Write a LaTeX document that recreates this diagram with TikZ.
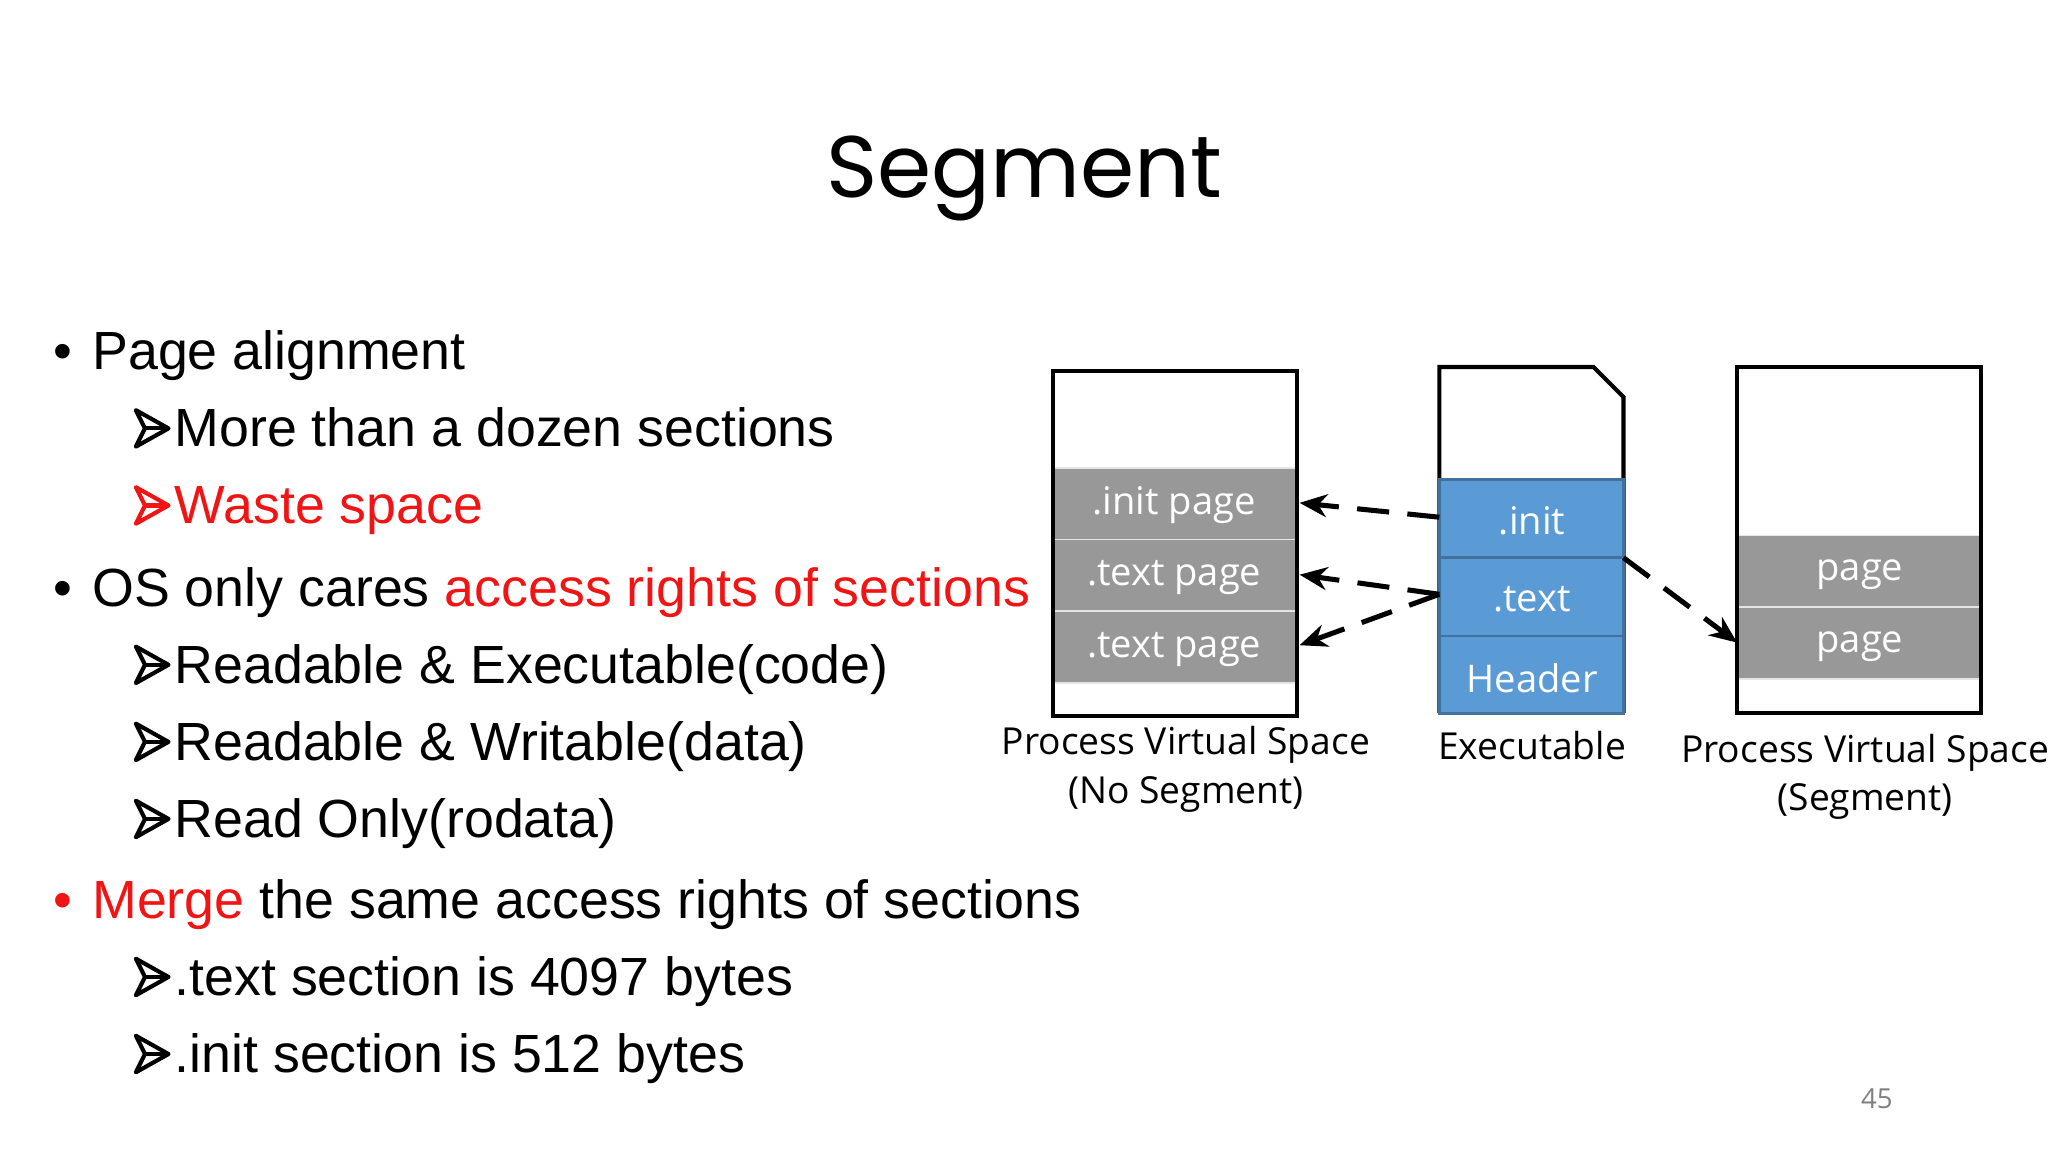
\documentclass[tikz,border=0pt]{standalone}
\usepackage{fontspec}
\setmainfont{Liberation Sans}
\newfontfamily\dfont{Open Sans}
\newfontfamily\tfont{Poppins}
\usetikzlibrary{arrows.meta}
\definecolor{myred}{RGB}{240,20,20}
\definecolor{mygray}{RGB}{152,152,152}
\definecolor{myblue}{RGB}{91,155,213}
\definecolor{myblueb}{RGB}{65,113,156}
\tikzset{
 bt/.style={anchor=base west,inner sep=0pt,font=\fontsize{11.7}{14}\selectfont},
 lbl/.style={font=\dfont\fontsize{8.1}{10.5}\selectfont,align=center,inner sep=0pt},
 graycell/.style={draw=white!80!gray,fill=mygray,line width=0.4pt},
 bluecell/.style={draw=myblueb,fill=myblue,line width=0.6pt},
 celltxt/.style={font=\dfont\fontsize{8.3}{10}\selectfont,text=white,inner sep=0pt},
 dasharrow/.style={dashed,dash pattern=on 7pt off 4pt,line width=1.1pt,-{Stealth[length=6pt,width=5pt]}}
}
\begin{document}
\begin{tikzpicture}[x=0.01cm,y=-0.01cm]
\useasboundingbox (0,0) rectangle (1568,882);
\node[font=\tfont\fontsize{19}{22}\selectfont,inner sep=0pt] (title) at (784,137) {Segment};
% bullets
\foreach \y/\c in {283/black,464/black,703/myred}{
 \node[bt,text=\c] at (40,\y) {•};}
\node[bt] (b1) at (70,283) {Page alignment};
\node[bt] (b2) at (70,464) {OS only cares \textcolor{myred}{access rights of sections}};
\node[bt] (b3) at (70,703) {\textcolor{myred}{Merge} the same access rights of sections};
\node[bt] (s1) at (133,342) {More than a dozen sections};
\node[bt,text=myred] (s2) at (133,401) {Waste space};
\node[bt] (s3) at (133,523) {Readable \& Executable(code)};
\node[bt] (s4) at (133,582) {Readable \& Writable(data)};
\node[bt] (s5) at (133,641) {Read Only(rodata)};
\node[bt] (s6) at (133,762) {.text section is 4097 bytes};
\node[bt] (s7) at (133,821) {.init section is 512 bytes};
\foreach \y/\c in {328/black,387/myred,509/black,568/black,627/black,748/black,807/black}{
 \begin{scope}[shift={(104,\y)}]
 \draw[\c,line width=0.9pt,line join=round,fill=white] (0,-14) -- (25,0) -- (0,14) -- (7,0) -- cycle;
 \draw[\c,line width=0.9pt] (7,0) -- (25,0);
 \end{scope}}
% left box
\draw[graycell] (806,358) rectangle (993,413);
\draw[graycell] (806,413) rectangle (993,468);
\draw[graycell] (806,468) rectangle (993,523);
\draw[line width=0.9pt] (806,284) rectangle (993,548);
\node[celltxt] (lp1) at (899,387) {.init page};
\node[celltxt] (lp2) at (899,442) {.text page};
\node[celltxt] (lp3) at (899,497) {.text page};
\coordinate (l1) at (995,385);
\coordinate (l2) at (995,440);
\coordinate (l3) at (995,494);
% executable
\draw[line width=0.9pt] (1102,546) -- (1102,281) -- (1220,281) -- (1243,304) -- (1243,546);
\draw[bluecell] (1102,367) rectangle (1243,427);
\draw[bluecell] (1102,427) rectangle (1243,487);
\draw[bluecell] (1102,487) rectangle (1243,546);
\node[celltxt] (e1) at (1173,399) {.init};
\node[celltxt] (e2) at (1173,459) {.text};
\node[celltxt] (e3) at (1173,519) {Header};
\coordinate (ei) at (1102,396);
\coordinate (et) at (1102,455);
\coordinate (er) at (1243,427);
% right box
\draw[graycell] (1330,410) rectangle (1517,465);
\draw[graycell] (1330,465) rectangle (1517,520);
\draw[line width=0.9pt] (1330,281) rectangle (1517,546);
\node[celltxt] (r1) at (1424,440) {page};
\node[celltxt] (r2) at (1424,495) {page};
\coordinate (rp) at (1330,492);
% arrows
\draw[dasharrow] (ei) -- (l1);
\draw[dasharrow] (et) -- (l2);
\draw[dasharrow] (et) -- (l3);
\draw[dasharrow] (er) -- (rp);
% labels
\node[lbl] (c1) at (908,589) {Process Virtual Space\\(No Segment)};
\node[lbl] (c2) at (1173,571) {Executable};
\node[lbl] (c3) at (1428,595) {Process Virtual Space\\(Segment)};
\node[font=\dfont\fontsize{6}{7}\selectfont,text=gray,inner sep=0pt] (pn) at (1437,841) {45};
\end{tikzpicture}
\end{document}
